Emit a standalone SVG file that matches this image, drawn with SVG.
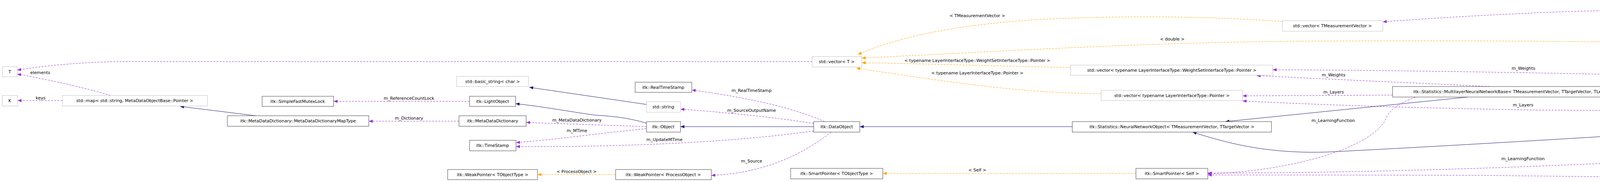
<svg xmlns="http://www.w3.org/2000/svg" width="6443" height="467" viewBox="0 0 6443 467">
<style>
text{font-family:"DejaVu Sans","Liberation Sans",sans-serif;font-size:11px;fill:#000}
.n text{text-anchor:middle}
.b{fill:#fff;stroke:#404040;stroke-width:1}
.g{fill:#fff;stroke:#bfbfbf;stroke-width:1}
.p{fill:none;stroke:#9a32cd;stroke-dasharray:5,3}
.o{fill:none;stroke:#ffa500;stroke-dasharray:5,3}
.i{fill:none;stroke:#191970}
.l{text-anchor:middle}
</style>
<defs>
<marker id="ap" markerWidth="11" markerHeight="8" refX="10" refY="4" orient="auto" markerUnits="userSpaceOnUse"><path d="M0,0L10,4L0,8z" fill="#9a32cd"/></marker>
<marker id="ao" markerWidth="11" markerHeight="8" refX="10" refY="4" orient="auto" markerUnits="userSpaceOnUse"><path d="M0,0L10,4L0,8z" fill="#ffa500"/></marker>
<marker id="ai" markerWidth="11" markerHeight="8" refX="10" refY="4" orient="auto" markerUnits="userSpaceOnUse"><path d="M0,0L10,4L0,8z" fill="#191970"/></marker>
</defs>
<g id="connectors">
<path class="p" marker-end="url(#ap)" d="M2079,158 L300,158 C200,160 100,170 44,180"/>
<path class="p" marker-end="url(#ap)" d="M283,245 C200,220 100,200 44,190"/>
<path class="p" marker-end="url(#ap)" d="M160,258 L45,258"/>
<path class="i" marker-end="url(#ai)" d="M655,297 L461,273"/>
<path class="p" marker-end="url(#ap)" d="M1202,260 L854,260"/>
<path class="p" marker-end="url(#ap)" d="M1175,311 L944,311"/>
<path class="i" marker-end="url(#ai)" d="M1655,268 L1355,224"/>
<path class="i" marker-end="url(#ai)" d="M1655,316 C1600,300 1560,298 1520,295 C1450,285 1400,275 1320,266"/>
<path class="p" marker-end="url(#ap)" d="M1655,325 C1580,322 1450,318 1347,314"/>
<path class="p" marker-end="url(#ap)" d="M1655,330 C1550,340 1450,355 1321,366"/>
<path class="p" marker-end="url(#ap)" d="M2083,336 C1950,355 1700,378 1321,376"/>
<path class="i" marker-end="url(#ai)" d="M2083,325 L1742,325"/>
<path class="p" marker-end="url(#ap)" d="M2111,312 C2050,285 1950,255 1771,231"/>
<path class="p" marker-end="url(#ap)" d="M2083,317 C1980,300 1850,288 1742,280"/>
<path class="p" marker-end="url(#ap)" d="M2128,339 C2050,400 1950,445 1821,450"/>
<path class="o" marker-end="url(#ao)" d="M1576,448 L1376,448"/>
<path class="o" marker-end="url(#ao)" d="M2908,445 L2260,445"/>
<path class="i" marker-end="url(#ai)" d="M2745,325 L2201,325"/>
<path class="o" marker-end="url(#ao)" d="M3283,55 C3100,42 2900,40 2700,48 C2450,60 2300,95 2196,140"/>
<path class="o" marker-end="url(#ao)" d="M4514,117 C4200,105 3700,103 3300,106 C2900,110 2500,135 2206,149"/>
<path class="o" marker-end="url(#ao)" d="M2741,173 C2550,170 2350,163 2206,161"/>
<path class="o" marker-end="url(#ao)" d="M2819,240 C2600,240 2400,205 2192,175"/>
<path class="p" marker-end="url(#ap)" d="M6178,193 C6000,110 5700,60 5200,40 C4900,28 4300,20 4000,30 C3800,38 3650,48 3540,56"/>
<path class="p" marker-end="url(#ap)" d="M5986,194 C5800,184 5500,165 5200,152 C5000,140 4800,130 4678,125"/>
<path class="p" marker-end="url(#ap)" d="M5309,251 C5100,240 4700,200 4300,195 C3900,185 3500,180 3258,179"/>
<path class="p" marker-end="url(#ap)" d="M3813,222 C3600,212 3400,203 3217,194"/>
<path class="p" marker-end="url(#ap)" d="M3565,244 L3181,246"/>
<path class="p" marker-end="url(#ap)" d="M4961,277 C4700,283 4200,285 3900,282 C3600,276 3400,270 3181,259"/>
<path class="i" marker-end="url(#ai)" d="M3758,249 L3137,312"/>
<path class="i" marker-end="url(#ai)" d="M5287,279 C4800,305 4000,360 3400,390 C3250,395 3150,370 3053,339"/>
<path class="p" marker-end="url(#ap)" d="M3813,222 C3650,228 3570,260 3550,300 C3520,380 3300,440 3092,446"/>
<path class="p" marker-end="url(#ap)" d="M5376,279 C5200,315 4800,370 4300,410 C3900,430 3500,444 3092,444"/>
<path class="p" marker-end="url(#ap)" d="M6174,220 C5900,300 5500,380 5000,440 C4700,460 4200,455 3800,450 C3500,449 3200,449 3092,449"/>
<path class="i" marker-end="url(#ai)" d="M6038,220 L5629,252"/>
<path class="o" marker-end="url(#ao)" d="M4961,256 C4700,250 4400,246 4232,243"/>
</g>
<g id="labels">
<text x="103" y="190" class="l">elements</text>
<text x="104" y="255" class="l">keys</text>
<text x="1047" y="256" class="l">m_ReferenceCountLock</text>
<text x="1047" y="307" class="l">m_Dictionary</text>
<text x="1477" y="312" class="l">m_MetaDataDictionary</text>
<text x="1477" y="339" class="l">m_MTime</text>
<text x="1476" y="444" class="l">&lt; ProcessObject &gt;</text>
<text x="1924" y="236" class="l">m_RealTimeStamp</text>
<text x="1924" y="287" class="l">m_SourceOutputName</text>
<text x="1701" y="362" class="l">m_UpdateMTime</text>
<text x="1924" y="417" class="l">m_Source</text>
<text x="2502" y="44" class="l">&lt; TMeasurementVector &gt;</text>
<text x="2502" y="159" class="l">&lt; typename LayerInterfaceType::WeightSetInterfaceType::Pointer &gt;</text>
<text x="2502" y="191" class="l">&lt; typename LayerInterfaceType::Pointer &gt;</text>
<text x="2502" y="440" class="l">&lt; Self &gt;</text>
<text x="3001" y="104" class="l">&lt; double &gt;</text>
<text x="3414" y="196" class="l">m_Weights</text>
<text x="3414" y="240" class="l">m_Layers</text>
<text x="3413" y="313" class="l">m_LearningFunction</text>
<text x="3900" y="179" class="l">m_Weights</text>
<text x="3899" y="273" class="l">m_Layers</text>
<text x="3899" y="411" class="l">m_LearningFunction</text>
<text x="4598" y="17" class="l">m_Centers</text>
<text x="4597" y="240" class="l">&lt; TMeasurementVector, TTargetVector, BackPropagationLayer&lt; TMeasurementVector, TTargetVector &gt; &gt;</text>
<text x="4597" y="431" class="l">m_DistanceMetric</text>
<text x="4597" y="447" class="l">m_FirstHiddenTransferFunction</text>
<text x="5450" y="136" class="l">m_Radii</text>
</g>
<g id="n_T" class="n"><rect class="g" x="6" y="171" width="38" height="26"/><text x="25" y="188">T</text></g>
<g id="n_K" class="n"><rect class="g" x="6" y="245" width="39" height="27"/><text x="25" y="262">K</text></g>
<g id="n_map" class="n"><rect class="g" x="160" y="245" width="371" height="27"/><text x="345" y="262">std::map&lt; std::string, MetaDataObjectBase::Pointer &gt;</text></g>
<g id="n_mutex" class="n"><rect class="b" x="671" y="247" width="183" height="26"/><text x="762" y="264">itk::SimpleFastMutexLock</text></g>
<g id="n_maptype" class="n"><rect class="b" x="582" y="297" width="362" height="27"/><text x="763" y="314">itk::MetaDataDictionary::MetaDataDictionaryMapType</text></g>
<g id="n_basic" class="n"><rect class="g" x="1169" y="196" width="184" height="26"/><text x="1261" y="213">std::basic_string&lt; char &gt;</text></g>
<g id="n_light" class="n"><rect class="b" x="1202" y="247" width="118" height="26"/><text x="1261" y="264">itk::LightObject</text></g>
<g id="n_mdd" class="n"><rect class="b" x="1175" y="297" width="172" height="27"/><text x="1261" y="314">itk::MetaDataDictionary</text></g>
<g id="n_ts" class="n"><rect class="b" x="1202" y="360" width="119" height="27"/><text x="1261" y="377">itk::TimeStamp</text></g>
<g id="n_wpt" class="n"><rect class="b" x="1146" y="435" width="230" height="26"/><text x="1261" y="452">itk::WeakPointer&lt; TObjectType &gt;</text></g>
<g id="n_rts" class="n"><rect class="b" x="1626" y="211" width="145" height="26"/><text x="1698" y="228">itk::RealTimeStamp</text></g>
<g id="n_str" class="n"><rect class="g" x="1655" y="261" width="87" height="27"/><text x="1698" y="278">std::string</text></g>
<g id="n_obj" class="n"><rect class="b" x="1655" y="312" width="87" height="27"/><text x="1698" y="329">itk::Object</text></g>
<g id="n_wpp" class="n"><rect class="b" x="1576" y="435" width="245" height="26"/><text x="1698" y="452">itk::WeakPointer&lt; ProcessObject &gt;</text></g>
<g id="n_vt" class="n"><rect class="g" x="2079" y="145" width="127" height="27"/><text x="2142" y="162">std::vector&lt; T &gt;</text></g>
<g id="n_do" class="n"><rect class="b" x="2083" y="312" width="118" height="27"/><text x="2142" y="329">itk::DataObject</text></g>
<g id="n_spt" class="n"><rect class="b" x="2024" y="432" width="236" height="27"/><text x="2142" y="449">itk::SmartPointer&lt; TObjectType &gt;</text></g>
<g id="n_vws" class="n"><rect class="g" x="2741" y="167" width="517" height="26"/><text x="3000" y="184">std::vector&lt; typename LayerInterfaceType::WeightSetInterfaceType::Pointer &gt;</text></g>
<g id="n_vlp" class="n"><rect class="g" x="2819" y="232" width="362" height="26"/><text x="3000" y="249">std::vector&lt; typename LayerInterfaceType::Pointer &gt;</text></g>
<g id="n_nno" class="n"><rect class="b" x="2745" y="312" width="510" height="27"/><text x="3000" y="329">itk::Statistics::NeuralNetworkObject&lt; TMeasurementVector, TTargetVector &gt;</text></g>
<g id="n_sps" class="n"><rect class="b" x="2908" y="432" width="184" height="27"/><text x="3000" y="449">itk::SmartPointer&lt; Self &gt;</text></g>
<g id="n_vmv" class="n"><rect class="g" x="3283" y="53" width="257" height="27"/><text x="3411" y="70">std::vector&lt; TMeasurementVector &gt;</text></g>
<g id="n_mlb" class="n"><rect class="b" x="3565" y="222" width="667" height="27"/><text x="3898" y="239">itk::Statistics::MultilayerNeuralNetworkBase&lt; TMeasurementVector, TTargetVector, TLearningLayer &gt;</text></g>
<g id="n_vd" class="n"><rect class="g" x="4514" y="107" width="164" height="26"/><text x="4596" y="124">std::vector&lt; double &gt;</text></g>
<g id="n_mlbp" class="n"><rect class="b" x="4961" y="252" width="974" height="27"/><text x="5448" y="269">itk::Statistics::MultilayerNeuralNetworkBase&lt; TMeasurementVector, TTargetVector, BackPropagationLayer&lt; TMeasurementVector, TTargetVector &gt; &gt;</text></g>
<g id="n_rbf" class="n"><rect x="5986" y="193" width="451" height="27" fill="#bfbfbf" stroke="#404040"/><text x="6211" y="210">itk::Statistics::RBFNetwork&lt; TMeasurementVector, TTargetVector &gt;</text></g>
</svg>
